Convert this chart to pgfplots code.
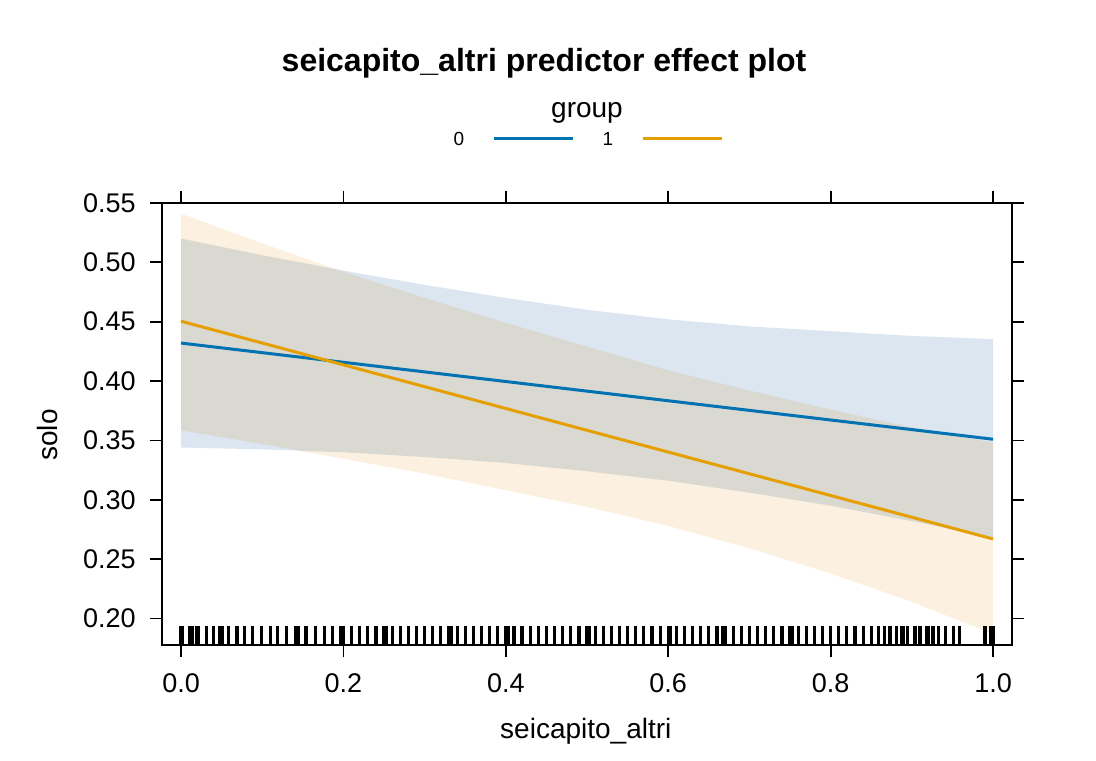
\documentclass[border=0pt]{standalone}
\usepackage{fontspec}
\setmainfont{Liberation Sans}
\usepackage{pgfplots}
\pgfplotsset{compat=1.18}
\definecolor{grpzero}{HTML}{0072B2}
\definecolor{grpone}{HTML}{E69F00}
\definecolor{bandzero}{HTML}{DCE6F0}
\definecolor{bandone}{HTML}{FCF1E0}

% confidence band outlines: upper edge left to right, then lower edge back
\pgfplotstableread{
x     y
0.0   0.520
0.1   0.506
0.2   0.493
0.3   0.481
0.4   0.470
0.5   0.460
0.6   0.452
0.7   0.446
0.8   0.442
0.9   0.438
1.0   0.4353
1.0   0.268
0.9   0.282
0.8   0.295
0.7   0.306
0.6   0.316
0.5   0.324
0.4   0.331
0.3   0.336
0.2   0.340
0.1   0.3425
0.0   0.344
}\bandzero
\pgfplotstableread{
x     y
0.0   0.541
0.1   0.516
0.2   0.492
0.3   0.470
0.4   0.449
0.5   0.429
0.6   0.409
0.7   0.392
0.8   0.376
0.9   0.361
1.0   0.348
1.0   0.187
0.9   0.214
0.8   0.238
0.7   0.259
0.6   0.278
0.5   0.294
0.4   0.308
0.3   0.322
0.2   0.3345
0.1   0.347
0.0   0.3585
}\bandone

\begin{document}
\begin{tikzpicture}
\useasboundingbox (0,0) rectangle (548pt,380pt);
\begin{axis}[
  at={(80.85pt,57.5pt)}, anchor=south west,
  scale only axis, width=425pt, height=221.15pt,
  xmin=-0.0238, xmax=1.023, ymin=0.1777, ymax=0.5502,
  xtick={0,0.2,0.4,0.6,0.8,1},
  xticklabels={0.0,0.2,0.4,0.6,0.8,1.0},
  ytick={0.20,0.25,0.30,0.35,0.40,0.45,0.50,0.55},
  yticklabels={0.20,0.25,0.30,0.35,0.40,0.45,0.50,0.55},
  scaled ticks=false,
  tick align=outside, major tick length=6pt,
  xtick pos=both, ytick pos=both,
  xticklabel pos=lower, yticklabel pos=left,
  tick style={line width=0.9pt, black},
  axis line style={line width=0.9pt},
  ticklabel style={font=\fontsize{13.5}{16}\selectfont},
  xticklabel style={yshift=-5pt},
  yticklabel style={xshift=-3.5pt},
  xlabel={seicapito\_altri}, ylabel={solo},
  label style={font=\fontsize{14}{16}\selectfont},
  xlabel style={at={(axis description cs:0.499,-0.195)}, anchor=center},
  ylabel style={at={(axis description cs:-0.134,0.475)}, anchor=center},
]
% confidence bands, multiplied where they overlap
\addplot[fill=bandzero, draw=none, forget plot, blend mode=multiply] table[x=x, y=y] {\bandzero};
\addplot[fill=bandone, draw=none, forget plot, blend mode=multiply] table[x=x, y=y] {\bandone};
% fitted effects
\addplot[grpzero, line width=1.5pt, mark=none] coordinates {(0,0.432) (0.5,0.3915) (1,0.351)};
\addplot[grpone, line width=1.5pt, mark=none] coordinates {(0,0.4504) (0.5,0.3585) (1,0.267)};
% rug of observed values
\addplot[only marks, mark=|, mark size=4.7pt, mark options={line width=1.6pt, black}, forget plot] coordinates {
(0.000,0.1855)(0.002,0.1855)(0.010,0.1855)(0.014,0.1855)(0.019,0.1855)(0.022,0.1855)
(0.031,0.1855)(0.040,0.1855)(0.047,0.1855)(0.051,0.1855)(0.058,0.1855)(0.069,0.1855)
(0.078,0.1855)(0.088,0.1855)(0.099,0.1855)(0.110,0.1855)(0.119,0.1855)(0.130,0.1855)
(0.141,0.1855)(0.144,0.1855)(0.154,0.1855)(0.166,0.1855)(0.177,0.1855)(0.187,0.1855)
(0.197,0.1855)(0.200,0.1855)(0.210,0.1855)(0.220,0.1855)(0.230,0.1855)(0.240,0.1855)
(0.250,0.1855)(0.253,0.1855)(0.260,0.1855)(0.270,0.1855)(0.280,0.1855)(0.290,0.1855)
(0.300,0.1855)(0.310,0.1855)(0.320,0.1855)(0.330,0.1855)(0.333,0.1855)(0.340,0.1855)
(0.350,0.1855)(0.360,0.1855)(0.370,0.1855)(0.380,0.1855)(0.390,0.1855)(0.400,0.1855)
(0.403,0.1855)(0.410,0.1855)(0.420,0.1855)(0.430,0.1855)(0.440,0.1855)(0.450,0.1855)
(0.460,0.1855)(0.470,0.1855)(0.480,0.1855)(0.490,0.1855)(0.500,0.1855)(0.503,0.1855)
(0.510,0.1855)(0.520,0.1855)(0.530,0.1855)(0.540,0.1855)(0.550,0.1855)(0.560,0.1855)
(0.570,0.1855)(0.580,0.1855)(0.590,0.1855)(0.600,0.1855)(0.603,0.1855)(0.610,0.1855)
(0.620,0.1855)(0.630,0.1855)(0.640,0.1855)(0.650,0.1855)(0.660,0.1855)(0.667,0.1855)
(0.670,0.1855)(0.680,0.1855)(0.690,0.1855)(0.700,0.1855)(0.710,0.1855)(0.720,0.1855)
(0.730,0.1855)(0.740,0.1855)(0.750,0.1855)(0.753,0.1855)(0.760,0.1855)(0.770,0.1855)
(0.780,0.1855)(0.790,0.1855)(0.800,0.1855)(0.810,0.1855)(0.820,0.1855)(0.830,0.1855)
(0.840,0.1855)(0.850,0.1855)(0.859,0.1855)(0.866,0.1855)(0.873,0.1855)(0.881,0.1855)
(0.887,0.1855)(0.890,0.1855)(0.895,0.1855)(0.904,0.1855)(0.910,0.1855)(0.918,0.1855)
(0.921,0.1855)(0.926,0.1855)(0.933,0.1855)(0.941,0.1855)(0.951,0.1855)(0.959,0.1855)
(0.990,0.1855)(0.997,0.1855)(1.000,0.1855)
};
\end{axis}
% title and key
\node[font=\bfseries\fontsize{16}{19}\selectfont] at (272pt,348.5pt) {seicapito\_altri predictor effect plot};
\node[font=\fontsize{14}{16}\selectfont] at (293.5pt,323.5pt) {group};
\node[font=\fontsize{9.5}{11}\selectfont] at (229.5pt,310.5pt) {0};
\draw[grpzero, line width=1.5pt] (247pt,310.5pt) -- (286.5pt,310.5pt);
\node[font=\fontsize{9.5}{11}\selectfont] at (304pt,310.5pt) {1};
\draw[grpone, line width=1.5pt] (321.5pt,310.5pt) -- (361pt,310.5pt);
\end{tikzpicture}
\end{document}
